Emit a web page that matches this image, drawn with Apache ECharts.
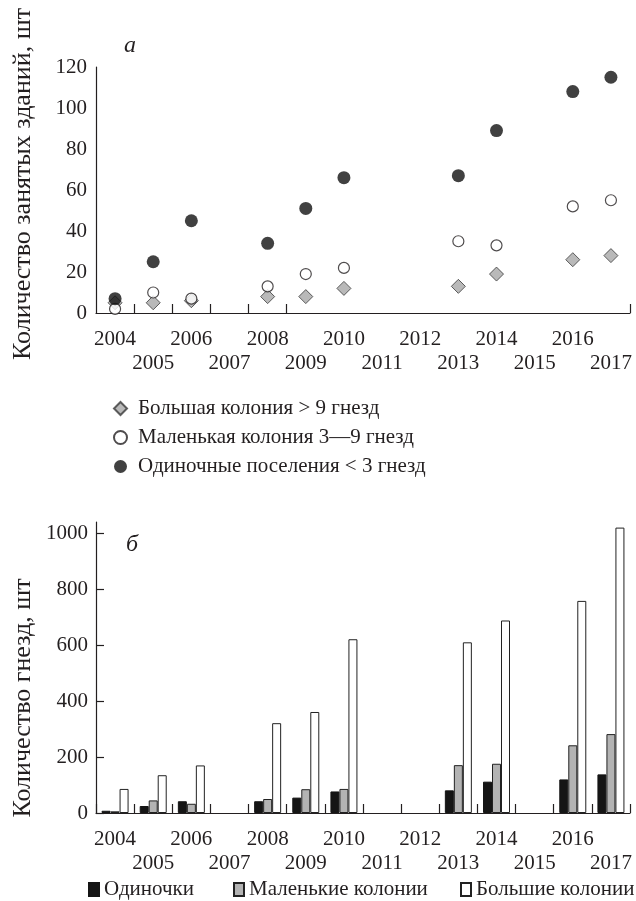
<!DOCTYPE html>
<html>
<head>
<meta charset="utf-8">
<script src="https://cdn.jsdelivr.net/npm/echarts@6/dist/echarts.min.js"></script>
<style>
  html, body { margin: 0; padding: 0; background: #fff; }
  #chart { width: 636px; height: 901px; }
</style>
</head>
<body>
<div id="chart"></div>
<script>
// Years on both category axes
const years = ['2004','2005','2006','2007','2008','2009','2010','2011','2012','2013','2014','2015','2016','2017'];

// Panel a: occupied buildings by settlement type
const bigColony   = [5, 5, 6, null, 8, 8, 12, null, null, 13, 19, null, 26, 28];
const smallColony = [2, 10, 7, null, 13, 19, 22, null, null, 35, 33, null, 52, 55];
const singleSites = [7, 25, 45, null, 34, 51, 66, null, null, 67, 89, null, 108, 115];

// Panel b: nests by settlement type
const nestsSingle = [8, 25, 42, null, 42, 55, 77, null, null, 81, 112, null, 120, 138];
const nestsSmall  = [6, 45, 33, null, 50, 85, 86, null, null, 171, 176, null, 242, 282];
const nestsLarge  = [86, 135, 170, null, 321, 361, 621, null, null, 610, 688, null, 758, 1020];

// Axis tick labels
const ticksA = [0, 20, 40, 60, 80, 100, 120];
const ticksB = [0, 200, 400, 600, 800, 1000];

const FONT = "'Liberation Serif', 'Times New Roman', serif";
const INK = '#231f20';

// Even years on the first row, odd years on the second
const labelFmt = (v, i) => (i % 2 ? '\n' + v : v);

const xAxisBase = (gridIndex, margin, tickFilter) => ({
  type: 'category',
  gridIndex,
  data: years,
  boundaryGap: true,
  axisLine: { lineStyle: { color: INK, width: 1.2 } },
  axisTick: {
    show: true, inside: true, length: 9,
    interval: tickFilter,
    lineStyle: { color: INK, width: 1.2 }
  },
  axisLabel: {
    interval: 0, margin,
    fontFamily: FONT, fontSize: 21, color: INK, lineHeight: 24,
    formatter: labelFmt
  },
  splitLine: { show: false }
});

const legendText = { fontFamily: FONT, fontSize: 21, color: INK };

const chart = echarts.init(document.getElementById('chart'), null, { renderer: 'canvas' });

chart.setOption({
  animation: false,
  backgroundColor: '#fff',
  textStyle: { fontFamily: FONT, color: INK },
  grid: [
    { left: 96, width: 534, top: 67, height: 246 },
    { left: 96, width: 534, top: 522, height: 291 }
  ],
  xAxis: [
    xAxisBase(0, 14, (i) => i >= 1 && i <= 5),
    xAxisBase(1, 14, () => true)
  ],
  yAxis: [
    {
      type: 'value', gridIndex: 0, min: 0, max: 120, interval: 20,
      axisLine: { show: true, lineStyle: { color: INK, width: 1.2 } },
      axisTick: { show: false },
      splitLine: { show: false },
      axisLabel: {
        margin: 9, fontFamily: FONT, fontSize: 21, color: INK,
        customValues: ticksA, formatter: (v) => String(v)
      }
    },
    {
      type: 'value', gridIndex: 1, min: 0, max: 1040,
      axisLine: { show: true, lineStyle: { color: INK, width: 1.2 } },
      axisTick: { show: true, inside: true, length: 8, customValues: ticksB,
                  lineStyle: { color: INK, width: 1.2 } },
      splitLine: { show: false },
      axisLabel: {
        margin: 8, fontFamily: FONT, fontSize: 21, color: INK,
        customValues: ticksB, formatter: (v) => String(v)
      }
    }
  ],
  legend: [
    {
      orient: 'vertical', left: 113, top: 398, itemGap: 8, padding: 0,
      itemWidth: 13, itemHeight: 13,
      textStyle: Object.assign({ lineHeight: 21, padding: [0, 0, 0, 6] }, legendText),
      data: ['Большая колония > 9 гнезд', 'Маленькая колония 3—9 гнезд', 'Одиночные поселения < 3 гнезд']
    },
    {
      left: 88, top: 879, padding: 0, itemWidth: 10, itemHeight: 13, icon: 'rect',
      textStyle: legendText, data: ['Одиночки']
    },
    {
      left: 233, top: 879, padding: 0, itemWidth: 10, itemHeight: 13, icon: 'rect',
      textStyle: legendText, data: ['Маленькие колонии']
    },
    {
      left: 460, top: 879, padding: 0, itemWidth: 10, itemHeight: 13, icon: 'rect',
      textStyle: legendText, data: ['Большие колонии']
    }
  ],
  graphic: [
    { type: 'text', left: 124, top: 34,
      style: { text: 'a', font: "italic 24px 'Liberation Serif', serif", fill: INK } },
    { type: 'text', left: 126, top: 533,
      style: { text: 'б', font: "italic 24px 'Liberation Serif', serif", fill: INK } },
    { type: 'text', x: 23, y: 184, rotation: Math.PI / 2,
      style: { text: 'Количество занятых зданий, шт', font: "26px 'Liberation Serif', serif",
               fill: INK, align: 'center', verticalAlign: 'middle' } },
    { type: 'text', x: 23, y: 698, rotation: Math.PI / 2,
      style: { text: 'Количество гнезд, шт', font: "26px 'Liberation Serif', serif",
               fill: INK, align: 'center', verticalAlign: 'middle' } }
  ],
  series: [
    {
      name: 'Большая колония > 9 гнезд', type: 'scatter', xAxisIndex: 0, yAxisIndex: 0,
      symbol: 'diamond', symbolSize: 14,
      itemStyle: { color: '#a7a7a7', borderColor: '#3a3a3a', borderWidth: 1 },
      data: bigColony
    },
    {
      name: 'Маленькая колония 3—9 гнезд', type: 'scatter', xAxisIndex: 0, yAxisIndex: 0,
      symbol: 'circle', symbolSize: 11,
      itemStyle: { color: '#ffffff', borderColor: INK, borderWidth: 1.2 },
      data: smallColony
    },
    {
      name: 'Одиночные поселения < 3 гнезд', type: 'scatter', xAxisIndex: 0, yAxisIndex: 0,
      symbol: 'circle', symbolSize: 13,
      itemStyle: { color: '#111111' },
      data: singleSites
    },
    {
      name: 'Одиночки', type: 'bar', xAxisIndex: 1, yAxisIndex: 1,
      barWidth: 9, barGap: '0%',
      itemStyle: { color: '#151515', borderColor: '#151515', borderWidth: 1 },
      data: nestsSingle
    },
    {
      name: 'Маленькие колонии', type: 'bar', xAxisIndex: 1, yAxisIndex: 1,
      barWidth: 9, barGap: '0%',
      itemStyle: { color: '#b3b3b3', borderColor: '#222', borderWidth: 1 },
      data: nestsSmall
    },
    {
      name: 'Большие колонии', type: 'bar', xAxisIndex: 1, yAxisIndex: 1,
      barWidth: 9, barGap: '0%',
      itemStyle: { color: '#ffffff', borderColor: '#222', borderWidth: 1 },
      data: nestsLarge
    }
  ]
});
</script>
</body>
</html>
